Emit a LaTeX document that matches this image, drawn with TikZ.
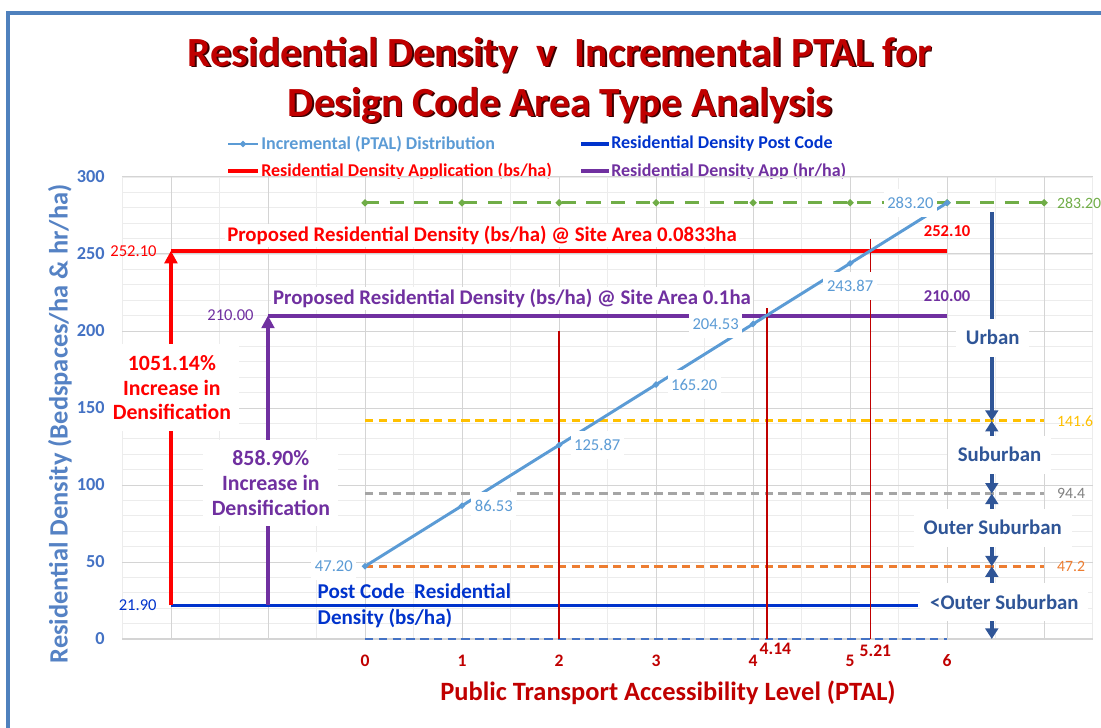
\documentclass[tikz,border=0pt]{standalone}
\usepackage{fontspec}
\setmainfont{Carlito}
\usepackage{tikz}
\usetikzlibrary{arrows.meta, positioning, shapes.geometric}

\definecolor{framebl}{HTML}{4F81BD}
\definecolor{titlered}{HTML}{C00000}
\definecolor{titleshd}{HTML}{3A0000}
\definecolor{axisbl}{HTML}{5582C4}
\definecolor{tickbl}{HTML}{4472C4}
\definecolor{ptalbl}{HTML}{5B9BD5}
\definecolor{codebl}{HTML}{0033CC}
\definecolor{apppur}{HTML}{7030A0}
\definecolor{urbgreen}{HTML}{70AD47}
\definecolor{subyel}{HTML}{FFC000}
\definecolor{outgray}{HTML}{A5A5A5}
\definecolor{outgraytxt}{HTML}{7F7F7F}
\definecolor{lowor}{HTML}{ED7D31}
\definecolor{areabl}{HTML}{2F5597}
\definecolor{gridmn}{HTML}{ECECEC}
\definecolor{gridmj}{HTML}{D4D4D4}

\begin{document}
\begin{tikzpicture}[x=0.025cm, y=-0.025cm,
    titletext/.style={font=\fontsize{29.5}{34}\selectfont\bfseries, inner sep=0pt},
    legendtext/.style={font=\fontsize{12.8}{15}\selectfont\bfseries, anchor=west, inner sep=0pt},
    axistitle/.style={font=\fontsize{18.8}{22}\selectfont\bfseries, inner sep=0pt},
    ytick/.style={font=\fontsize{13}{15}\selectfont\bfseries, text=tickbl, anchor=east, inner sep=0pt},
    xtick/.style={font=\fontsize{12.5}{15}\selectfont\bfseries, text=titlered, inner sep=0pt},
    gridminor/.style={gridmn, line width=0.5pt},
    gridmajor/.style={gridmj, line width=0.6pt},
    threshold/.style={line width=2.1pt, dash pattern=on 6pt off 3.8pt},
    datalabel/.style={font=\fontsize{11.8}{14}\selectfont, fill=white, inner xsep=2.5pt, inner ysep=6pt},
    sidelabel/.style={font=\fontsize{11.8}{14}\selectfont, inner xsep=2.5pt, inner ysep=2pt},
    threshlabel/.style={font=\fontsize{11.2}{14}\selectfont, inner xsep=1pt, inner ysep=2pt},
    proposed/.style={font=\fontsize{14.8}{17}\selectfont\bfseries, fill=white, inner sep=1.5pt},
    pctlabel/.style={font=\fontsize{15.5}{17.5}\selectfont\bfseries, fill=white, align=center, inner xsep=6pt, inner ysep=8pt},
    postlabel/.style={font=\fontsize{15}{18.4}\selectfont\bfseries, text=codebl, align=left, anchor=west, inner sep=0pt},
    densline/.style={line width=2.8pt},
    densarrow/.style={line width=2.8pt, -{Triangle[width=9pt,length=9pt]}},
    ptalcut/.style={titlered, line width=1.4pt},
    band/.style={areabl, line width=2.6pt, >={Triangle[width=9pt,length=7.5pt]}},
    bandlabel/.style={font=\fontsize{14.8}{16}\selectfont\bfseries, text=areabl, fill=white, inner xsep=7pt, inner ysep=8.5pt, text height=10pt, text depth=0pt},
    ptalmark/.style={diamond, fill=ptalbl, inner sep=0pt, minimum size=5pt},
    urbmark/.style={diamond, fill=urbgreen, inner sep=0pt, minimum size=5.5pt}
]
\useasboundingbox (0,0) rectangle (1101,728);

% frame
\draw[framebl, line width=3.2pt] (8,728) -- (8,13) -- (1101,13);

% title
\node[titletext, text=titleshd] (titleAs) at (561.5,56.5) {Residential Density\ \ v\ \ Incremental PTAL for};
\node[titletext, text=titlered] (titleA) at (560,55) {Residential Density\ \ v\ \ Incremental PTAL for};
\node[titletext, text=titleshd] (titleBs) at (561.5,106.5) {Design Code Area Type Analysis};
\node[titletext, text=titlered] (titleB) at (560,105) {Design Code Area Type Analysis};

% legend
\draw[ptalbl, line width=2pt] (228,144) -- (258,144);
\node[ptalmark] (legmark) at (243,144) {};
\node[legendtext, text=ptalbl] (legptal) at (261,144) {Incremental (PTAL) Distribution};
\draw[codebl, line width=2.6pt] (581,144) -- (609,144);
\node[legendtext, text=codebl] (legcode) at (611,144) {Residential Density Post Code};
\draw[red, line width=2.6pt] (228,171) -- (258,171);
\node[legendtext, text=red] (legapp) at (261,171) {Residential Density Application (bs/ha)};
\draw[apppur, line width=2.6pt] (581,171) -- (609,171);
\node[legendtext, text=apppur] (leghr) at (611,171) {Residential Density App (hr/ha)};

% axis titles
\node[axistitle, text=axisbl, rotate=90] (ytitle) at (60,424) {Residential Density (Bedspaces/ha \& hr/ha)};
\node[axistitle, text=titlered] (xtitle) at (668,693) {Public Transport Accessibility Level (PTAL)};

\begin{scope}[shift={(365,639)}, x=2.425cm, y=0.0385cm]
  % grid
  \foreach \v in {10,20,...,300} \draw[gridminor] (-2.5,\v) -- (7.5,\v);
  \foreach \u in {-2.5,-1.5,...,7.5} \draw[gridminor] (\u,0) -- (\u,300);
  \foreach \v in {50,100,...,300} \draw[gridmajor] (-2.5,\v) -- (7.5,\v);
  \foreach \u in {-2,...,7} \draw[gridmajor] (\u,0) -- (\u,300);
  \draw[gridmj, line width=0.9pt] (-2.5,0) -- (7.5,0);

  % ticks
  \foreach \v in {0,50,...,300} \node[ytick] (ytick\v) at (-2.68,\v) {\v};
  \foreach \u in {0,...,6} \node[xtick] (xtick\u) at (\u,-14.3) {\u};

  % area type thresholds
  \coordinate (urbL) at (0,283.2);   \coordinate (urbR) at (7,283.2);
  \coordinate (subL) at (0,141.6);   \coordinate (subR) at (7,141.6);
  \coordinate (outL) at (0,94.4);    \coordinate (outR) at (7,94.4);
  \coordinate (lowL) at (0,47.2);    \coordinate (lowR) at (7,47.2);
  \coordinate (zeroL) at (0,0);      \coordinate (zeroR) at (6,0);
  \draw[urbgreen, line width=2.3pt, dash pattern=on 10pt off 7.5pt] (urbL) -- (urbR);
  \foreach \u in {0,...,7} \node[urbmark] (um\u) at (\u,283.2) {};
  \draw[threshold, subyel] (subL) -- (subR);
  \draw[threshold, outgray] (outL) -- (outR);
  \draw[threshold, lowor] (lowL) -- (lowR);
  \draw[threshold, tickbl, line width=1.6pt] (zeroL) -- (zeroR);
  \node[threshlabel, text=urbgreen, right=8pt of urbR] (urbtxt) {283.20};
  \node[threshlabel, text=subyel, right=8pt of subR] (subtxt) {141.6};
  \node[threshlabel, text=outgraytxt, right=8pt of outR] (outtxt) {94.4};
  \node[threshlabel, text=lowor, right=8pt of lowR] (lowtxt) {47.2};

  % densities
  \coordinate (appL) at (-2,252.1);  \coordinate (appR) at (6,252.1);
  \coordinate (hrL) at (-1,210);     \coordinate (hrR) at (6,210);
  \coordinate (codeL) at (-2,21.9);  \coordinate (codeR) at (5.7,21.9);
  \coordinate (hrB) at (-1,21.9);
  \draw[codebl, line width=2.5pt] (codeL) -- (codeR);
  \draw[red, densline] (appL) -- (appR);
  \draw[red, densarrow] (codeL) -- (appL);
  \draw[apppur, densline] (hrL) -- (hrR);
  \draw[apppur, densarrow] (hrB) -- (hrL);
  \node[sidelabel, text=red, left=7.5pt of appL] (applab) {252.10};
  \node[sidelabel, text=apppur, left=7.5pt of hrL] (hrlab) {210.00};
  \node[sidelabel, text=codebl, left=7.5pt of codeL] (codelab) {21.90};
  \node[sidelabel, text=red, font=\fontsize{11.8}{14}\selectfont\bfseries, above=8pt of appR] (appRlab) {252.10};
  \node[sidelabel, text=apppur, font=\fontsize{11.8}{14}\selectfont\bfseries, above=8pt of hrR] (hrRlab) {210.00};
  \node[proposed, text=red] (apptitle) at (1.206,261.7) {Proposed Residential Density (bs/ha) @ Site Area 0.0833ha};
  \node[proposed, text=apppur] (hrtitle) at (1.515,220.8) {Proposed Residential Density (bs/ha) @ Site Area 0.1ha};
  \node[pctlabel, text=red] (apppct) at (-1.99,163) {1051.14\%\\Increase in\\Densification};
  \node[pctlabel, text=apppur] (hrpct) at (-0.97,101.3) {858.90\%\\Increase in\\Densification};
  \node[postlabel] (postlab) at (-0.49,21.6) {Post Code\ \ Residential\\Density (bs/ha)};

  % PTAL cut lines
  \draw[ptalcut] (2,0) -- (2,200);
  \draw[ptalcut] (4.14,0) coordinate (cutA) -- (4.14,215);
  \draw[ptalcut] (5.21,0) coordinate (cutB) -- (5.21,260);
  \node[xtick] (cutAlab) at (4.23,-6.5) {4.14};
  \node[xtick] (cutBlab) at (5.26,-7.5) {5.21};

  % incremental PTAL distribution
  \foreach \u/\v in {0/47.20,1/86.53,2/125.87,3/165.20,4/204.53,5/243.87,6/283.20}
    \coordinate (ptal\u) at (\u,\v);
  \draw[ptalbl, line width=2.1pt] (ptal0) -- (ptal1) -- (ptal2) -- (ptal3) -- (ptal4) -- (ptal5) -- (ptal6);
  \foreach \u in {0,...,6} \node[ptalmark] (pm\u) at (ptal\u) {};
  \node[datalabel, text=ptalbl, left=6pt of ptal0] (lab0) {47.20};
  \node[datalabel, text=ptalbl, right=6.5pt of ptal1] (lab1) {86.53};
  \node[datalabel, text=ptalbl, right=8pt of ptal2] (lab2) {125.87};
  \node[datalabel, text=ptalbl, right=8pt of ptal3] (lab3) {165.20};
  \node[datalabel, text=ptalbl, left=7.5pt of ptal4] (lab4) {204.53};
  \node[datalabel, text=ptalbl, below=6pt of ptal5] (lab5) {243.87};
  \node[datalabel, text=ptalbl, left=7pt of ptal6] (lab6) {283.20};

  % area type bands
  \coordinate (bandTop) at (6.46,277.3);
  \coordinate (bandU) at (6.46,141.6);
  \coordinate (bandS) at (6.46,94.4);
  \coordinate (bandO) at (6.46,47.2);
  \coordinate (bandZ) at (6.46,0);
  \draw[band, ->] (bandTop) -- (bandU);
  \draw[band, <->] (bandU) -- (bandS);
  \draw[band, <->] (bandS) -- (bandO);
  \draw[band, <->] (bandO) -- (bandZ);
  \node[bandlabel] (urban) at (6.47,195.5) {Urban};
  \node[bandlabel] (suburban) at (6.54,119.5) {Suburban};
  \node[bandlabel] (outer) at (6.47,72.1) {Outer Suburban};
  \node[bandlabel] (lower) at (6.59,24.0) {<Outer Suburban};
\end{scope}
\end{tikzpicture}
\end{document}
